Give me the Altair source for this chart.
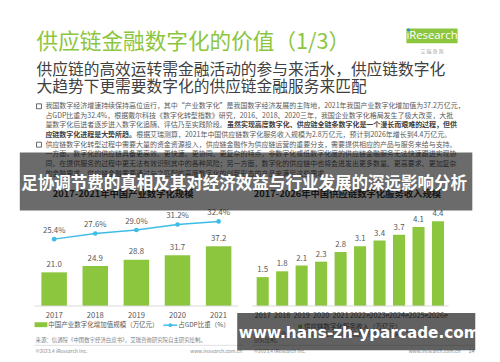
import altair as alt
import pandas as pd

# ---------------- data ----------------
years_a = ["2017", "2018", "2019", "2020", "2021"]
value_a = [21.0, 24.9, 28.8, 31.7, 37.2]          # 中国产业数字化增加值规模（万亿元）
share_a = [25.4, 27.6, 29.0, 31.2, 32.4]          # 占GDP比重（%）
years_b = ["2017", "2018", "2019", "2020", "2021", "2022e", "2023e", "2024e", "2025e", "2026e"]
value_b = [1.5, 1.8, 2.1, 2.3, 2.8, 3.1, 3.4, 3.7, 4.1, 4.4]   # 供应链数字化服务收入（万亿元）

title = "供应链金融数字化的价值（1/3）"
subtitle = ["供应链的高效运转需金融活动的参与来活水，供应链数字化",
            "大趋势下更需要数字化的供应链金融服务来匹配"]
body = [
    "我国数字经济增速持续保持高位运行，其中“产业数字化”是我国数字经济发展的主阵地，2021年我国产业数字化增加值为37.2万亿元，",
    "占GDP比重为32.4%，根据戴尔科技《数字化转型指数》研究，2016、2018、2020三年，我国企业数字化格局发生了极大改变，大批",
    "量数字化后进者逐步进入数字化追随、评估乃至实践阶段。",
    "虽然实现高度数字化、供应链全链条数字化是一个漫长而艰难的过程，但供",
    "应链数字化进程是大势所趋。",
    "根据艾瑞测算，2021年中国供应链数字化服务收入规模为2.8万亿元，预计到2026年增长到4.4万亿元。",
    "供应链数字化转型过程中需要大量的资金资源投入，供应链金融作为供应链运营的重要分支，需要提供相应的产品与服务来给与支持。",
    "一方面，数字化的供应链具备更高效、更快速、更协同、更复杂的特点，非数字化或低数字化度的供应链金融服务无法快速跟进实现协",
    "同，在提供服务的过程中更无法有效识别其中的各种风险；另一方面，数字化的供应链中也将会迸发出更多数量、更高要求、更加复杂",
    "的金融需求，供应链金融需要通过与之匹配的高度数字化的创新形态的产品来满足这些需求。",
]
chart_title_a = "2017-2021年中国产业数字化规模"
chart_title_b = "2017-2026年中国供应链数字化服务收入规模"
legend_a1 = "中国产业数字化增加值规模（万亿元）"
legend_a2 = "占GDP比重（%）"
legend_b = "供应链数字化服务收入（万亿元）"
source_a = "来源：信通院《中国数字经济白皮书》，艾瑞咨询研究院自主研究绘制。"
source_b = ["来源：根据企业公开财报、行业访谈及艾瑞统计预测模型估算，艾瑞咨询",
            "研究绘制。"]
copyright_txt = "©2023.4 iResearch Inc."
site_txt = "www.iresearch.com.cn"
page_no = "14"
overlay_1 = "足协调节费的真相及其对经济效益与行业发展的深远影响分析"
overlay_2 = "www.hans-zh-yparcade.com"

# ---------------- styling ----------------
GREEN = "#8cc63f"
CYAN = "#3dbce7"
GREY = "#595959"
DARK = "#404040"
CJK = "Noto Sans CJK SC"
OFF = 8  # page margin


def px(v):
    return v - OFF


def py(v):
    return v - OFF


def one():
    return pd.DataFrame({"t": [0]})


def txt(s, x, y, size, color=GREY, weight="normal", align="left",
        baseline="middle", font=CJK):
    return alt.Chart(pd.DataFrame({"t": [s]})).mark_text(
        align=align, baseline=baseline, fontSize=size, fontWeight=weight,
        font=font, color=color
    ).encode(x=alt.value(px(x)), y=alt.value(py(y)), text="t:N")


def box(x0, y0, x1, y1, color, opacity=1.0, stroke=None):
    kw = dict(color=color, opacity=opacity)
    if stroke:
        kw = dict(fill=color, stroke=stroke, strokeWidth=0.8, opacity=opacity)
    return alt.Chart(one()).mark_rect(**kw).encode(
        x=alt.value(px(x0)), x2=alt.value(px(x1)),
        y=alt.value(py(y0)), y2=alt.value(py(y1)))


def hline(x0, x1, y, color, width=1.0):
    return alt.Chart(one()).mark_rule(color=color, strokeWidth=width).encode(
        x=alt.value(px(x0)), x2=alt.value(px(x1)), y=alt.value(py(y)))


layers = []

# ---- header ----
layers.append(txt(title, 37, 40, 22, color=GREEN))
layers.append(box(413, 26, 465, 41, GREEN))
layers.append(txt("iResearch", 439, 33.5, 11.5, color="white", align="center",
                  font="Open Sans"))
layers.append(alt.Chart(one()).mark_circle(color="#1f8fd6", size=10, opacity=1).encode(
    x=alt.value(px(415)), y=alt.value(py(27.5))))
layers.append(txt("艾   瑞   咨   询", 439, 48.5, 5, color="#9a9a9a", align="center"))
layers.append(txt(subtitle[0], 37, 68, 16, color=DARK))
layers.append(txt(subtitle[1], 37, 85, 16, color=DARK))

# ---- body text ----
BS = 7.1
ys = [105, 115, 124.5, 134, 144, 154, 164, 174]
layers.append(box(37, 102.5, 42, 107.5, "white", stroke="#404040"))
layers.append(box(37, 141.5, 42, 146.5, "white", stroke="#404040"))
layers.append(txt(body[0], 46, ys[0], BS))
layers.append(txt(body[1], 46, ys[1], BS))
layers.append(txt(body[2], 46, ys[2], BS))
layers.append(txt(body[3], 46 + 26 * BS, ys[2], BS, color="#404040", weight="bold"))
layers.append(txt(body[4], 46, ys[3], BS, color="#404040", weight="bold"))
layers.append(txt(body[5], 46 + 13 * BS, ys[3], BS))
layers.append(txt(body[6], 46, ys[4], BS))
layers.append(txt(body[7], 46, ys[5], BS))
layers.append(txt(body[8], 46, ys[6], BS))
layers.append(txt(body[9], 46, ys[7], BS))

# ---- chart titles ----
layers.append(txt(chart_title_a, 125, 194, 9.5, color="#333333", weight="bold", align="center"))
layers.append(txt(chart_title_b, 353, 194, 9.5, color="#333333", weight="bold", align="center"))

# ---- left chart ----
df_a = pd.DataFrame({"year": years_a, "value": value_a, "share": share_a})
xa = alt.Scale(type="band", domain=years_a, range=[px(34), px(243)],
               paddingInner=0.38, paddingOuter=0.19)
ya = alt.Scale(domain=[0, 40], range=[py(308), py(308 - 40 * 1.63)], nice=False)
yl = alt.Scale(domain=[0, 40], range=[py(305.3), py(202.5)], nice=False)
XA = alt.X("year:N", scale=xa, axis=None)

layers.append(alt.Chart(df_a).mark_bar(color=GREEN).encode(
    x=XA, y=alt.Y("value:Q", scale=ya, axis=None)))
layers.append(alt.Chart(df_a).mark_text(fontSize=8, color=GREY, baseline="bottom",
                                        dy=-3.5, font=CJK).encode(
    x=XA, y=alt.Y("value:Q", scale=ya, axis=None),
    text=alt.Text("value:Q", format=".1f")))
layers.append(alt.Chart(df_a).mark_line(color=CYAN, strokeWidth=1.5).encode(
    x=XA, y=alt.Y("share:Q", scale=yl, axis=None)))
layers.append(alt.Chart(df_a).mark_circle(color=CYAN, size=22, opacity=1).encode(
    x=XA, y=alt.Y("share:Q", scale=yl, axis=None)))
layers.append(alt.Chart(df_a).transform_calculate(
    lab="format(datum.share, '.1f') + '%'").mark_text(
    fontSize=8, color=GREY, baseline="bottom", dy=-4.5, font=CJK).encode(
    x=XA, y=alt.Y("share:Q", scale=yl, axis=None), text="lab:N"))
layers.append(hline(35, 242, 308, "#d9d9d9", 1))
layers.append(alt.Chart(df_a).mark_text(fontSize=7.8, color=GREY, baseline="middle",
                                        font=CJK).encode(
    x=XA, y=alt.value(py(318)), text="year:N"))
# legend
layers.append(box(35, 324.5, 48, 329.5, GREEN))
layers.append(txt(legend_a1, 49, 327.5, 6.6))
layers.append(hline(166, 180, 327.5, CYAN, 1.5))
layers.append(alt.Chart(one()).mark_circle(color=CYAN, size=14, opacity=1).encode(
    x=alt.value(px(173)), y=alt.value(py(327.5))))
layers.append(txt(legend_a2, 181, 327.5, 6.6))
layers.append(txt(source_a, 36, 343, 5.5, color="#7f7f7f"))
layers.append(hline(35, 246, 348, "#d9d9d9", 0.8))
layers.append(txt(copyright_txt, 36, 354, 5, color="#8c8c8c"))
layers.append(txt(site_txt, 246, 354, 5, color="#8c8c8c", align="right"))

# ---- right chart ----
df_b = pd.DataFrame({"year": years_b, "value": value_b})
xb = alt.Scale(type="band", domain=years_b, range=[px(257), px(455)],
               paddingInner=0.38, paddingOuter=0.19)
yb = alt.Scale(domain=[0, 5], range=[py(308), py(308 - 5 * 19.6)], nice=False)
XB = alt.X("year:N", scale=xb, axis=None)
layers.append(alt.Chart(df_b).mark_bar(color=GREEN).encode(
    x=XB, y=alt.Y("value:Q", scale=yb, axis=None)))
layers.append(alt.Chart(df_b).mark_text(fontSize=8, color=GREY, baseline="bottom",
                                        dy=-3, font=CJK).encode(
    x=XB, y=alt.Y("value:Q", scale=yb, axis=None),
    text=alt.Text("value:Q", format=".1f")))
layers.append(hline(256, 456, 308, "#d9d9d9", 1))
layers.append(alt.Chart(df_b).mark_text(fontSize=7.4, color=GREY, baseline="middle",
                                        font=CJK).encode(
    x=XB, y=alt.value(py(318)), text="year:N"))
layers.append(box(303, 327, 307, 331, GREEN))
layers.append(txt(legend_b, 309, 329, 6.6))
layers.append(txt(source_b[0], 258, 336, 5.5, color="#7f7f7f"))
layers.append(txt(source_b[1], 258, 343, 5.5, color="#7f7f7f"))
layers.append(hline(256, 482, 348, "#d9d9d9", 0.8))
layers.append(txt(copyright_txt, 258, 354, 5, color="#8c8c8c"))
layers.append(txt(site_txt, 468, 354, 5, color="#8c8c8c", align="right"))
layers.append(txt(page_no, 476, 354, 5.5, color="#8c8c8c"))

# ---- overlays ----
layers.append(box(20, 152, 480, 211, "#000000", opacity=0.58))
layers.append(txt(overlay_1, 248, 184, 16.8, color="white", weight="bold", align="center"))
layers.append(box(241, 315, 483, 353, "#000000", opacity=0.62))
layers.append(txt(overlay_2, 365, 336, 15.5, color="white", weight="bold",
                  align="center", font="DejaVu Sans"))

chart = alt.layer(*layers).resolve_scale(
    x="independent", y="independent"
).properties(
    width=492, height=354, autosize=alt.AutoSizeParams(type="none"), padding=0,
    background="white"
).configure_view(stroke=None)

chart.save("out.html", embed_options={"renderer": "svg", "actions": False})
